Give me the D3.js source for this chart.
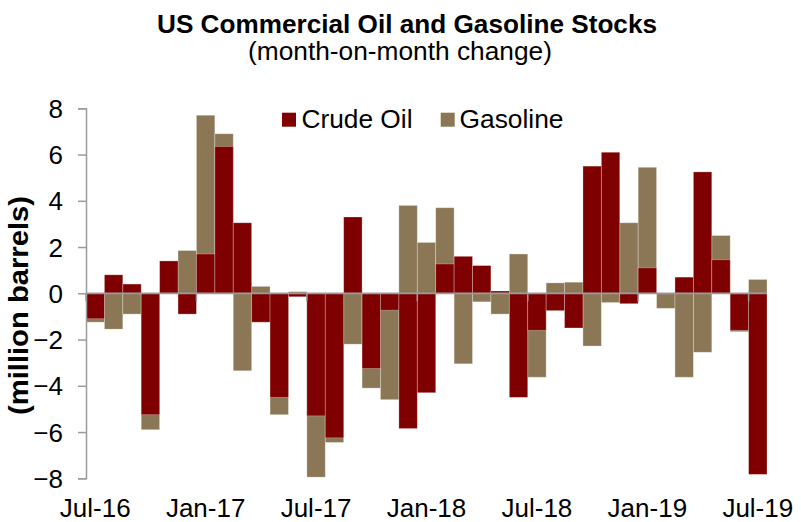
<!DOCTYPE html>
<html>
<head>
<meta charset="utf-8">
<script src="https://cdn.jsdelivr.net/npm/d3@7"></script>
<style>
  body { margin: 0; background: #fff; }
  text { font-family: "Liberation Sans", Arial, sans-serif; fill: #000; }
</style>
</head>
<body>
<svg id="chart" width="801" height="522"></svg>
<script>
// Monthly categories, Jul-16 .. Jul-19
const months = ["Jul-16","Aug-16","Sep-16","Oct-16","Nov-16","Dec-16",
  "Jan-17","Feb-17","Mar-17","Apr-17","May-17","Jun-17",
  "Jul-17","Aug-17","Sep-17","Oct-17","Nov-17","Dec-17",
  "Jan-18","Feb-18","Mar-18","Apr-18","May-18","Jun-18",
  "Jul-18","Aug-18","Sep-18","Oct-18","Nov-18","Dec-18",
  "Jan-19","Feb-19","Mar-19","Apr-19","May-19","Jun-19","Jul-19"];

// Month-on-month change, million barrels
const crudeOil = [-1.1, 0.8, 0.4, -5.25, 1.4, -0.9,
  1.7, 6.35, 3.05, -1.25, -4.5, -0.15,
  -5.3, -6.25, 3.3, -3.25, -0.73, -5.85,
  -4.3, 1.27, 1.6, 1.2, 0.1, -4.5,
  -1.6, -0.75, -1.5, 5.5, 6.1, -0.45,
  1.1, 0, 0.7, 5.25, 1.45, -1.6, -7.83];

const gasoline = [-1.25, -1.55, -0.9, -5.9, 0, 1.85,
  7.7, 6.9, -3.35, 0.3, -5.25, 0.07,
  -7.95, -6.45, -2.2, -4.1, -4.6, 3.8,
  2.2, 3.7, -3.05, -0.37, -0.9, 1.7,
  -3.63, 0.45, 0.48, -2.28, -0.4, 3.05,
  5.45, -0.65, -3.63, -2.55, 2.5, -1.66, 0.6];

const yTicks = [-8, -6, -4, -2, 0, 2, 4, 6, 8];
const xTickLabels = ["Jul-16","Jan-17","Jul-17","Jan-18","Jul-18","Jan-19","Jul-19"];

const seriesNames = ["Crude Oil", "Gasoline"];
const colors = { "Crude Oil": "#7f0000", "Gasoline": "#8b7755" };

const svg = d3.select("#chart");

const x = d3.scaleBand().domain(months).range([86, 767]).padding(0);
const y = d3.scaleLinear().domain([-8, 8]).range([478.3, 108.3]);

// Bars: gasoline behind, crude oil in front (full overlap, no gap)
const drawSeries = (vals, color) => {
  svg.append("g").selectAll("rect")
    .data(months.map((m, i) => ({ m, v: vals[i] })))
    .join("rect")
    .attr("x", d => x(d.m))
    .attr("width", x.bandwidth())
    .attr("y", d => y(Math.max(0, d.v)))
    .attr("height", d => Math.abs(y(d.v) - y(0)))
    .attr("fill", color)
    .attr("stroke", "rgba(255,255,255,0.35)")
    .attr("stroke-width", 0.8);
};
drawSeries(gasoline, colors["Gasoline"]);
drawSeries(crudeOil, colors["Crude Oil"]);

const axisColor = "#9a9a9a";

// Y axis
const yAxis = svg.append("g").attr("transform", "translate(86,0)")
  .call(d3.axisLeft(y).tickValues(yTicks).tickSize(8).tickFormat(d3.format("d")));
yAxis.select(".domain").attr("stroke", axisColor).attr("stroke-width", 1.5);
yAxis.selectAll(".tick line").attr("stroke", axisColor).attr("stroke-width", 1.5);
yAxis.selectAll(".tick text")
  .attr("x", -23)
  .attr("dy", "0.35em")
  .style("font-size", "26px")
  .attr("fill", "#000");

// X axis along zero, ticks between categories every six months
const xAxisG = svg.append("g");
xAxisG.append("line")
  .attr("x1", x.range()[0]).attr("x2", x.range()[1])
  .attr("y1", y(0)).attr("y2", y(0))
  .attr("stroke", axisColor).attr("stroke-width", 1.8);
const tickIdx = d3.range(0, months.length, 6);
xAxisG.selectAll("line.tk")
  .data(tickIdx)
  .join("line")
  .attr("class", "tk")
  .attr("x1", i => x(months[i])).attr("x2", i => x(months[i]))
  .attr("y1", y(0)).attr("y2", y(0) + 8)
  .attr("stroke", axisColor).attr("stroke-width", 1.5);

// Month labels under the plot
svg.append("g").selectAll("text")
  .data(xTickLabels)
  .join("text")
  .attr("x", d => x(d) + x.bandwidth() / 2)
  .attr("y", 517)
  .attr("text-anchor", "middle")
  .style("font-size", "26px")
  .text(d => d);

// Y axis title
svg.append("text")
  .attr("transform", "translate(28,305.5) rotate(-90)")
  .attr("text-anchor", "middle")
  .style("font-size", "27px")
  .style("font-weight", "bold")
  .attr("textLength", 219)
  .attr("lengthAdjust", "spacingAndGlyphs")
  .text("(million barrels)");

// Title and subtitle
svg.append("text")
  .attr("x", 407).attr("y", 33)
  .attr("text-anchor", "middle")
  .style("font-size", "26px")
  .style("font-weight", "bold")
  .attr("textLength", 500)
  .attr("lengthAdjust", "spacingAndGlyphs")
  .text("US Commercial Oil and Gasoline Stocks");
svg.append("text")
  .attr("x", 400).attr("y", 60)
  .attr("text-anchor", "middle")
  .style("font-size", "26px")
  .attr("textLength", 304)
  .attr("lengthAdjust", "spacingAndGlyphs")
  .text("(month-on-month change)");

// Legend
const legendItems = [
  { name: seriesNames[0], sx: 282, tx: 301.5, len: 111 },
  { name: seriesNames[1], sx: 440.7, tx: 459.5, len: 104 }
];
const lg = svg.append("g").selectAll("g").data(legendItems).join("g");
lg.append("rect")
  .attr("x", d => d.sx).attr("y", 112.7)
  .attr("width", 14).attr("height", 14)
  .attr("fill", d => colors[d.name]);
lg.append("text")
  .attr("x", d => d.tx).attr("y", 128)
  .style("font-size", "26px")
  .attr("textLength", d => d.len)
  .attr("lengthAdjust", "spacingAndGlyphs")
  .text(d => d.name);
</script>
</body>
</html>
